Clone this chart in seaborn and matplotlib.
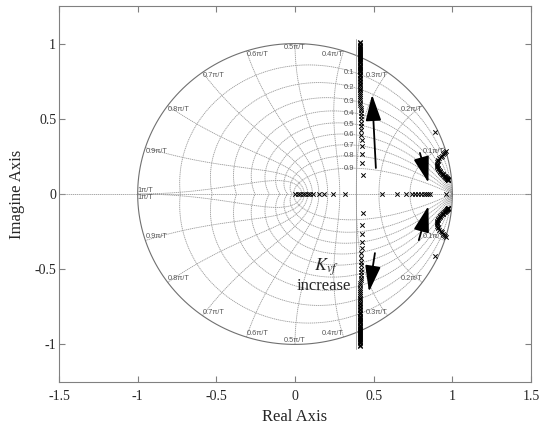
import numpy as np
import pandas as pd
import matplotlib
matplotlib.use("Agg")
import matplotlib.pyplot as plt
import seaborn as sns

# pole locations (upper half, lower half is the conjugate)
vert_re = [0.430, 0.428, 0.426, 0.424, 0.423, 0.422, 0.421, 0.420, 0.419, 0.419,
           0.418, 0.418, 0.417, 0.417, 0.416, 0.416, 0.416, 0.415, 0.415, 0.415,
           0.414, 0.414, 0.414, 0.414, 0.414, 0.414, 0.413, 0.413, 0.413, 0.413,
           0.413, 0.413, 0.413, 0.413, 0.412, 0.412, 0.412, 0.412, 0.412, 0.412,
           0.412, 0.412, 0.412, 0.412, 0.412, 0.412, 0.412, 0.412, 0.412, 0.412,
           0.412, 0.412, 0.412, 0.412, 0.412, 0.412, 0.412, 0.412, 0.412, 0.412,
           0.412, 0.412]
vert_im = [0.127, 0.207, 0.267, 0.320, 0.360, 0.393, 0.423, 0.450, 0.475, 0.498,
           0.520, 0.540, 0.558, 0.575, 0.592, 0.608, 0.623, 0.637, 0.651, 0.664,
           0.677, 0.689, 0.701, 0.712, 0.723, 0.734, 0.744, 0.754, 0.764, 0.773,
           0.782, 0.791, 0.800, 0.808, 0.816, 0.824, 0.832, 0.840, 0.847, 0.854,
           0.861, 0.868, 0.875, 0.882, 0.889, 0.896, 0.903, 0.910, 0.917, 0.924,
           0.931, 0.938, 0.945, 0.952, 0.959, 0.966, 0.973, 0.980, 0.987, 0.994,
           1.001, 1.008]

arc_re = [0.962, 0.955, 0.948, 0.940, 0.932, 0.925, 0.918, 0.912, 0.907, 0.903,
          0.901, 0.900, 0.901, 0.903, 0.906, 0.910, 0.914, 0.919, 0.924, 0.929,
          0.934, 0.939, 0.943, 0.947, 0.951, 0.955, 0.958, 0.961, 0.964, 0.966,
          0.968, 0.970, 0.972, 0.973, 0.974]
arc_im = [0.285, 0.278, 0.271, 0.263, 0.255, 0.247, 0.238, 0.229, 0.220, 0.211,
          0.202, 0.194, 0.186, 0.178, 0.171, 0.164, 0.157, 0.151, 0.145, 0.140,
          0.135, 0.130, 0.126, 0.122, 0.118, 0.114, 0.111, 0.108, 0.105, 0.102,
          0.100, 0.098, 0.096, 0.094, 0.093]

lone_re = [0.889]
lone_im = [0.410]

real_poles = [0.0, 0.016, 0.032, 0.048, 0.064, 0.080, 0.096, 0.114, 0.152, 0.186,
              0.240, 0.320, 0.552, 0.648, 0.705, 0.743, 0.760, 0.780, 0.800, 0.818,
              0.835, 0.848, 0.857, 0.959]

# thin gray locus line next to the vertical branch
guide_re = [0.387, 0.387]
guide_im = [-1.03, 1.03]

# arrows (tail -> head)
arrows = [((0.514, 0.173), (0.490, 0.660)),
          ((0.508, -0.393), (0.470, -0.650)),
          ((0.794, 0.273), (0.848, 0.075)),
          ((0.787, -0.307), (0.848, -0.080))]

zeta_vals = [0.1, 0.2, 0.3, 0.4, 0.5, 0.6, 0.7, 0.8, 0.9]
wn_vals = [0.1, 0.2, 0.3, 0.4, 0.5, 0.6, 0.7, 0.8, 0.9, 1.0]

sns.set_style("ticks")
plt.rcParams["font.family"] = ["Liberation Serif", "DejaVu Serif"]
plt.rcParams["mathtext.fontset"] = "stix"

fig = plt.figure(figsize=(5.5, 4.32), dpi=100)
ax = fig.add_axes([59 / 550, 50 / 432, 472 / 550, 376 / 432])

gc = "#9a9a9a"
small = ["Liberation Sans", "DejaVu Sans"]
# zgrid: damping curves
for z in zeta_vals:
    a = z / np.sqrt(1 - z ** 2)
    th = np.linspace(0, np.pi, 300)
    r = np.exp(-a * th)
    ax.plot(r * np.cos(th), r * np.sin(th), color=gc, lw=0.6, ls=(0, (1.5, 0.8)), zorder=1)
    ax.plot(r * np.cos(th), -r * np.sin(th), color=gc, lw=0.6, ls=(0, (1.5, 0.8)), zorder=1)
    # label where the curve crosses real ~ 0.385
    xs = r * np.cos(th)
    k = np.argmin(np.abs(xs - 0.385) + (th > np.pi / 2) * 10)
    ax.text(0.375, r[k] * np.sin(th[k]), f"{z:.1f}", ha="right", va="center",
            fontsize=5.5, color="#555555", family=small)

# zgrid: natural frequency curves
for w in wn_vals:
    wt = w * np.pi
    zz = np.linspace(0, 1, 200)
    r = np.exp(-zz * wt)
    th = wt * np.sqrt(1 - zz ** 2)
    ax.plot(r * np.cos(th), r * np.sin(th), color=gc, lw=0.6, ls=(0, (1.5, 0.8)), zorder=1)
    ax.plot(r * np.cos(th), -r * np.sin(th), color=gc, lw=0.6, ls=(0, (1.5, 0.8)), zorder=1)
    lab = "1π/T" if w == 1.0 else f"{w:.1f}π/T"
    cx, cy = np.cos(wt), np.sin(wt)
    if w < 0.5:
        ha = "right"
    elif w > 0.5:
        ha = "left"
    else:
        ha = "center"
    for sgn, va in ((1, "top"), (-1, "bottom")):
        ax.text(cx, sgn * cy, lab, ha=ha, va=va, fontsize=5.3, color="#555555",
                family=small)

# unit circle and real axis
t = np.linspace(0, 2 * np.pi, 400)
ax.plot(np.cos(t), np.sin(t), color="#707070", lw=0.8, zorder=2)
ax.plot([-1.5, 1.5], [0, 0], color=gc, lw=0.6, ls=(0, (1.5, 0.8)), zorder=1)
ax.plot(guide_re, guide_im, color="#9a9a9a", lw=0.6, zorder=2)

# poles
up = pd.DataFrame({"re": vert_re + arc_re + lone_re,
                   "im": vert_im + arc_im + lone_im})
lo = up.assign(im=-up["im"])
ra = pd.DataFrame({"re": real_poles, "im": [0.0] * len(real_poles)})
poles = pd.concat([up, lo, ra], ignore_index=True)
sns.scatterplot(data=poles, x="re", y="im", marker="x", color="black",
                s=10, linewidth=0.7, ax=ax, zorder=3)

for (x0, y0), (x1, y1) in arrows:
    ax.annotate("", xy=(x1, y1), xytext=(x0, y0),
                arrowprops=dict(arrowstyle="-|>,head_length=1.0,head_width=0.3",
                                mutation_scale=16, color="black", lw=1.3, shrinkA=0, shrinkB=0),
                zorder=4)

ax.text(0.20, -0.49, r"$K_{vf}$", ha="center", va="center", fontsize=13)
ax.text(0.18, -0.61, "increase", ha="center", va="center", fontsize=12)

ax.set_xlim(-1.5, 1.5)
ax.set_ylim(-1.25, 1.25)
ax.set_xticks([-1.5, -1, -0.5, 0, 0.5, 1, 1.5])
ax.set_xticklabels(["-1.5", "-1", "-0.5", "0", "0.5", "1", "1.5"])
ax.set_yticks([-1, -0.5, 0, 0.5, 1])
ax.set_yticklabels(["-1", "-0.5", "0", "0.5", "1"])
ax.tick_params(direction="in", top=True, right=True, length=4, width=0.8,
               color="#808080", labelsize=10)
ax.tick_params(axis="x", pad=6)
ax.tick_params(axis="y", pad=2)
for s in ax.spines.values():
    s.set_color("#808080")
    s.set_linewidth(0.8)
ax.set_xlabel("Real Axis", fontsize=12, labelpad=4)
ax.set_ylabel("Imagine Axis", fontsize=12, labelpad=7)

fig.savefig("out.png", dpi=100)
